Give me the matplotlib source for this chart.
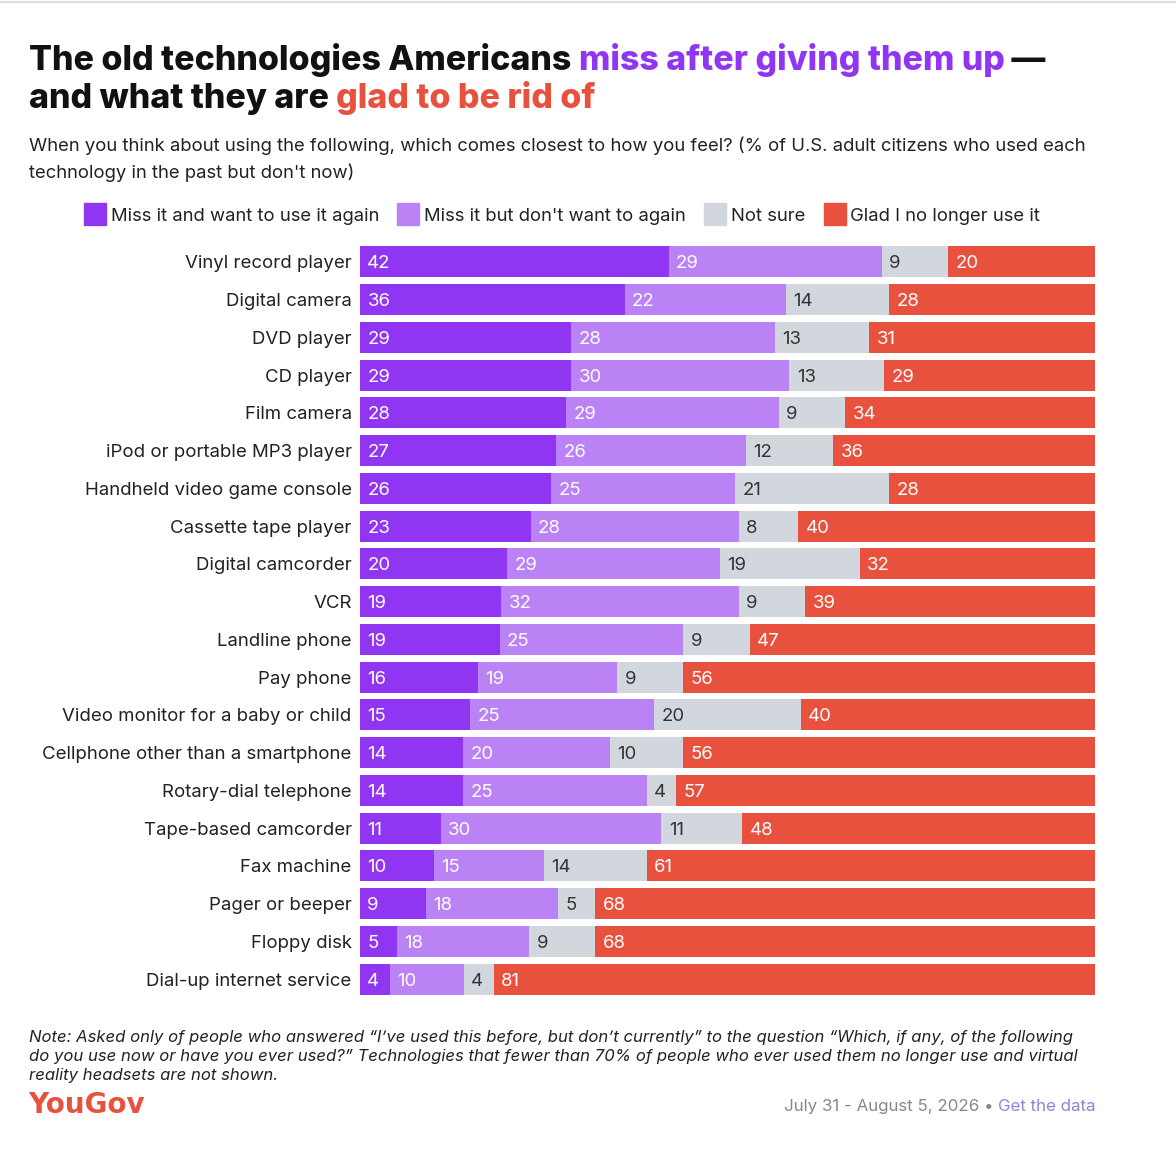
import matplotlib
matplotlib.use("Agg")
import matplotlib.pyplot as plt
import numpy as np

W, H = 1176, 1170

techs = ["Vinyl record player", "Digital camera", "DVD player", "CD player",
         "Film camera", "iPod or portable MP3 player", "Handheld video game console",
         "Cassette tape player", "Digital camcorder", "VCR", "Landline phone",
         "Pay phone", "Video monitor for a baby or child",
         "Cellphone other than a smartphone", "Rotary-dial telephone",
         "Tape-based camcorder", "Fax machine", "Pager or beeper", "Floppy disk",
         "Dial-up internet service"]
miss_want = [42, 36, 29, 29, 28, 27, 26, 23, 20, 19, 19, 16, 15, 14, 14, 11, 10, 9, 5, 4]
miss_no = [29, 22, 28, 30, 29, 26, 25, 28, 29, 32, 25, 19, 25, 20, 25, 30, 15, 18, 18, 10]
not_sure = [9, 14, 13, 13, 9, 12, 21, 8, 19, 9, 9, 9, 20, 10, 4, 11, 14, 5, 9, 4]
glad = [20, 28, 31, 29, 34, 36, 28, 40, 32, 39, 47, 56, 40, 56, 57, 48, 61, 68, 68, 81]

series_names = ["Miss it and want to use it again", "Miss it but don't want to again",
                "Not sure", "Glad I no longer use it"]
colors = ["#9036F2", "#BA82F4", "#D2D6DD", "#E8513D"]
label_colors = ["white", "white", "#333333", "white"]

plt.rcParams["font.family"] = ["Inter", "DejaVu Sans"]

fig = plt.figure(figsize=(W / 100, H / 100), dpi=100)
fig.patch.set_facecolor("white")


def fx(x):
    return x / W


def fy(y):
    return 1 - y / H


# thin screenshot border at top
fig.add_artist(plt.Line2D([0, 1], [fy(2), fy(2)], color="#DDDDDD", lw=1.5))

# bars
top, bot = 243, 998
ax = fig.add_axes([fx(360), fy(bot), fx(1095) - fx(360), (bot - top) / H])
data = np.array([miss_want, miss_no, not_sure, glad], dtype=float)
shares = data / data.sum(axis=0) * 100
y = np.arange(len(techs))
left = np.zeros(len(techs))
for k in range(4):
    ax.barh(y, shares[k], left=left, height=0.82, color=colors[k], linewidth=0)
    for i in range(len(techs)):
        ax.text(left[i] + 1.0, y[i], str(int(data[k, i])), va="center_baseline", ha="left",
                fontsize=13.4, color=label_colors[k])
    left += shares[k]

ax.set_xlim(0, 100)
ax.set_ylim(len(techs) - 0.5, -0.5)
ax.set_yticks(y)
ax.set_yticklabels(techs, fontsize=13.4, color="#222222", va="center_baseline")
ax.tick_params(axis="y", length=0, pad=6)
ax.set_xticks([])
for s in ax.spines.values():
    s.set_visible(False)

# title, built piece by piece
fig.canvas.draw()
renderer = fig.canvas.get_renderer()


def chain(pieces, x0, ypix, **kw):
    x = x0
    for txt, col in pieces:
        t = fig.text(fx(x), fy(ypix), txt, color=col, va="baseline", ha="left", **kw)
        bb = t.get_window_extent(renderer=renderer)
        x += bb.width


tkw = dict(fontsize=24.45, fontweight="heavy", family=["Inter", "DejaVu Sans"])
chain([("The old technologies Americans ", "#111111"),
       ("miss after giving them up", "#9036F2"),
       (" \u2014", "#111111")], 29, 70, **tkw)
chain([("and what they are ", "#111111"),
       ("glad to be rid of", "#E8513D")], 29, 108, **tkw)

fig.text(fx(29), fy(151), "When you think about using the following, which comes closest to how you feel? "
         "(% of U.S. adult citizens who used each", fontsize=13.3, color="#222222", va="baseline")
fig.text(fx(29), fy(178), "technology in the past but don't now)", fontsize=13.3,
         color="#222222", va="baseline")

# legend
lx = 84
for name, col in zip(series_names, colors):
    fig.patches.append(plt.Rectangle((fx(lx), fy(225)), 22 / W, 22 / H, color=col,
                                     transform=fig.transFigure, figure=fig))
    t = fig.text(fx(lx + 27), fy(221), name, fontsize=13.3, color="#222222", va="baseline")
    lx += 27 + t.get_window_extent(renderer=renderer).width + 18

# note
note = ["Note: Asked only of people who answered \u201cI\u2019ve used this before, but don\u2019t currently\u201d "
        "to the question \u201cWhich, if any, of the following",
        "do you use now or have you ever used?\u201d Technologies that fewer than 70% of people "
        "who ever used them no longer use and virtual",
        "reality headsets are not shown."]
for i, line in enumerate(note):
    fig.text(fx(29), fy(1042 + i * 19), line, fontsize=12, style="italic",
             color="#222222", va="baseline")

fig.text(fx(28), fy(1113), "YouGov", fontsize=20, fontweight="bold", color="#E8513D",
         va="baseline", family=["Liberation Sans Narrow", "DejaVu Sans"])
t = fig.text(fx(1096), fy(1111), "Get the data", fontsize=12.2, color="#8E86D4",
             va="baseline", ha="right")
wd = t.get_window_extent(renderer=renderer).width
fig.text(fx(1096) - wd / W, fy(1111), "July 31 - August 5, 2026 \u2022 ", fontsize=12.2,
         color="#888888", va="baseline", ha="right")

fig.savefig("out.png", dpi=100, facecolor="white")
